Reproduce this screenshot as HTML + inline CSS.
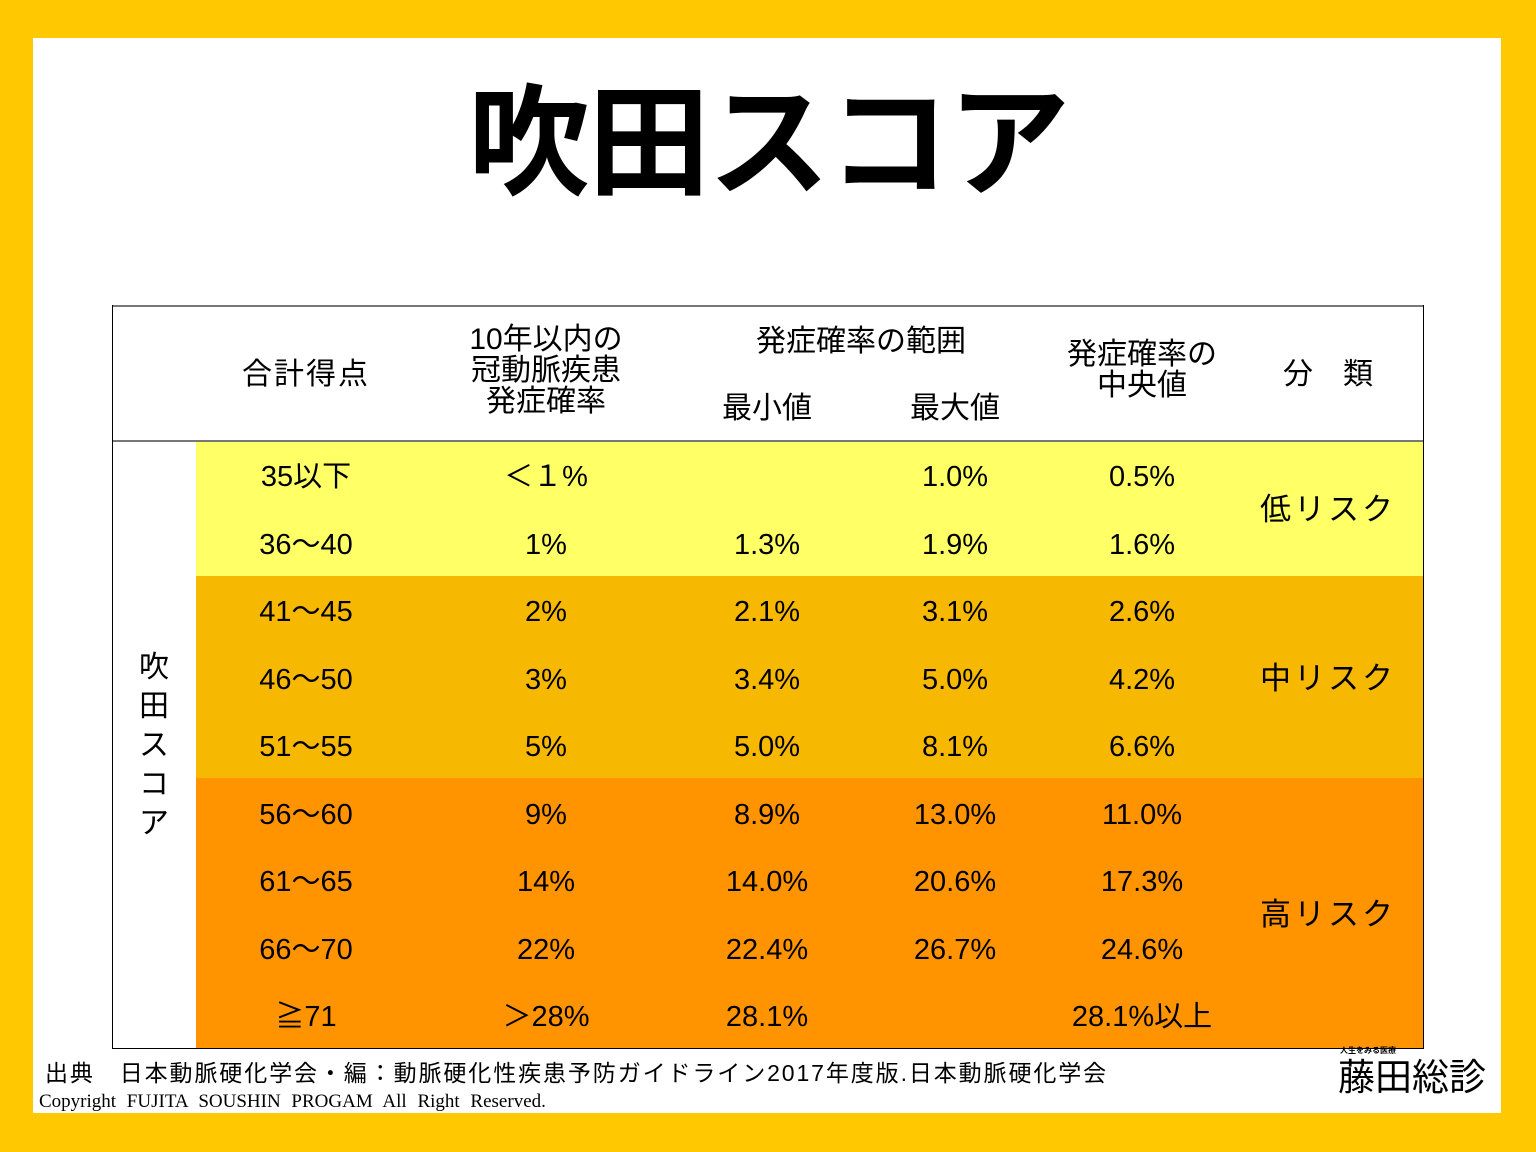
<!DOCTYPE html>
<html><head><meta charset="utf-8"><style>
*{margin:0;padding:0;box-sizing:border-box}
body{width:1536px;height:1152px;background:#FFC800;position:relative;overflow:hidden;font-family:"Liberation Sans","Noto Sans CJK JP",sans-serif;color:#000}
.a{position:absolute}
.c{position:absolute;width:300px;text-align:center;font-size:29px;line-height:40px;height:40px;white-space:nowrap}
.h{position:absolute;width:300px;text-align:center;font-size:30px;line-height:32px;white-space:nowrap}
</style></head><body>
<div class="a" style="left:33px;top:38px;width:1468px;height:1075px;background:#fff"></div>
<div class="a" style="left:0;top:64px;width:1536px;text-align:center;font-size:122px;font-weight:bold;line-height:140px;font-family:'Noto Sans CJK JP',sans-serif;letter-spacing:-2px">吹田スコア</div>

<div class="a" style="left:196px;top:441px;width:1227px;height:135px;background:#FFFF66"></div>
<div class="a" style="left:196px;top:576px;width:1227px;height:202px;background:#F6B800"></div>
<div class="a" style="left:196px;top:778px;width:1227px;height:270px;background:#FF9400"></div>
<div class="a" style="left:112px;top:305px;width:1312px;height:2px;background:#777"></div>
<div class="a" style="left:112px;top:440px;width:1312px;height:2px;background:#777"></div>
<div class="a" style="left:112px;top:305px;width:1px;height:744px;background:#000"></div>
<div class="a" style="left:1423px;top:305px;width:1px;height:744px;background:#000"></div>
<div class="a" style="left:112px;top:1048px;width:1312px;height:1px;background:#000"></div>

<div class="h" style="left:156px;top:359px;letter-spacing:2px">合計得点</div>
<div class="h" style="left:396px;top:324px;line-height:31px">10年以内の<br>冠動脈疾患<br>発症確率</div>
<div class="h" style="left:711px;top:326px">発症確率の範囲</div>
<div class="h" style="left:617px;top:393px">最小値</div>
<div class="h" style="left:805px;top:393px">最大値</div>
<div class="h" style="left:992px;top:339px;line-height:31px">発症確率の<br>中央値</div>
<div class="h" style="left:1178px;top:359px">分　類</div>

<div class="a" style="left:134px;top:648px;width:40px;font-size:30px;line-height:39px;text-align:center">吹<br>田<br>ス<br>コ<br>ア</div>

<div class="c" style="left:156px;top:457px">35以下</div>
<div class="c" style="left:396px;top:457px">＜１%</div>
<div class="c" style="left:805px;top:457px">1.0%</div>
<div class="c" style="left:992px;top:457px">0.5%</div>

<div class="c" style="left:156px;top:525px">36〜40</div>
<div class="c" style="left:396px;top:525px">1%</div>
<div class="c" style="left:617px;top:525px">1.3%</div>
<div class="c" style="left:805px;top:525px">1.9%</div>
<div class="c" style="left:992px;top:525px">1.6%</div>

<div class="c" style="left:156px;top:592px">41〜45</div>
<div class="c" style="left:396px;top:592px">2%</div>
<div class="c" style="left:617px;top:592px">2.1%</div>
<div class="c" style="left:805px;top:592px">3.1%</div>
<div class="c" style="left:992px;top:592px">2.6%</div>

<div class="c" style="left:156px;top:660px">46〜50</div>
<div class="c" style="left:396px;top:660px">3%</div>
<div class="c" style="left:617px;top:660px">3.4%</div>
<div class="c" style="left:805px;top:660px">5.0%</div>
<div class="c" style="left:992px;top:660px">4.2%</div>

<div class="c" style="left:156px;top:727px">51〜55</div>
<div class="c" style="left:396px;top:727px">5%</div>
<div class="c" style="left:617px;top:727px">5.0%</div>
<div class="c" style="left:805px;top:727px">8.1%</div>
<div class="c" style="left:992px;top:727px">6.6%</div>

<div class="c" style="left:156px;top:795px">56〜60</div>
<div class="c" style="left:396px;top:795px">9%</div>
<div class="c" style="left:617px;top:795px">8.9%</div>
<div class="c" style="left:805px;top:795px">13.0%</div>
<div class="c" style="left:992px;top:795px">11.0%</div>

<div class="c" style="left:156px;top:862px">61〜65</div>
<div class="c" style="left:396px;top:862px">14%</div>
<div class="c" style="left:617px;top:862px">14.0%</div>
<div class="c" style="left:805px;top:862px">20.6%</div>
<div class="c" style="left:992px;top:862px">17.3%</div>

<div class="c" style="left:156px;top:930px">66〜70</div>
<div class="c" style="left:396px;top:930px">22%</div>
<div class="c" style="left:617px;top:930px">22.4%</div>
<div class="c" style="left:805px;top:930px">26.7%</div>
<div class="c" style="left:992px;top:930px">24.6%</div>

<div class="c" style="left:156px;top:997px">≧71</div>
<div class="c" style="left:396px;top:997px">＞28%</div>
<div class="c" style="left:617px;top:997px">28.1%</div>
<div class="c" style="left:992px;top:997px">28.1%以上</div>

<div class="c" style="left:1178px;top:490px;font-size:31px;letter-spacing:3px">低リスク</div>
<div class="c" style="left:1178px;top:659px;font-size:31px;letter-spacing:3px">中リスク</div>
<div class="c" style="left:1178px;top:895px;font-size:31px;letter-spacing:3px">高リスク</div>

<div class="a" style="left:45px;top:1058px;font-size:23px;line-height:30px;white-space:nowrap;letter-spacing:1.9px">出典　日本動脈硬化学会・編：動脈硬化性疾患予防ガイドライン2017年度版.日本動脈硬化学会</div>
<div class="a" style="left:39px;top:1091px;font-size:19px;line-height:22px;font-family:'Liberation Serif',serif;white-space:nowrap;word-spacing:6px">Copyright FUJITA SOUSHIN PROGAM All Right Reserved.</div>
<div class="a" style="left:1340px;top:1046px;font-size:8px;font-weight:bold;line-height:10px">人生をみる医療</div>
<div class="a" style="left:1338px;top:1056px;font-size:37px;line-height:44px;white-space:nowrap">藤田総診</div>
</body></html>
